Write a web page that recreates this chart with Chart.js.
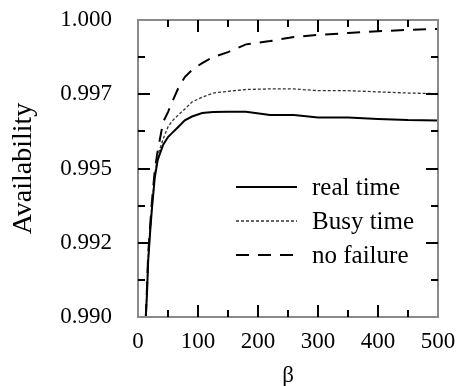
<!DOCTYPE html>
<html>
<head>
<meta charset="utf-8">
<script src="https://cdn.jsdelivr.net/npm/chart.js@4"></script>
<style>
  html, body { margin: 0; padding: 0; background: #fff; }
  #wrap { width: 461px; height: 386px; }
</style>
</head>
<body>
<div id="wrap"><canvas id="availChart" width="461" height="386"></canvas></div>
<script>
// beta values (x) and availability of the three series
const beta      = [13, 15, 17, 20, 23, 28, 33, 42, 50, 57, 67, 78, 90, 107, 125, 150, 180, 220, 260, 300, 350, 400, 450, 500];
const realTime  = [0.9900, 0.9908, 0.9919, 0.9928, 0.9936, 0.9947, 0.9953, 0.9958, 0.99606, 0.9962, 0.9964, 0.99662, 0.99675, 0.99687, 0.9969, 0.99691, 0.99691, 0.9968, 0.9968, 0.99672, 0.99672, 0.99667, 0.99663, 0.99662];
const busyTime  = [0.9900, 0.9909, 0.9920, 0.9929, 0.9937, 0.9948, 0.99545, 0.9960, 0.9964, 0.9966, 0.9968, 0.9970, 0.99724, 0.9974, 0.99754, 0.9976, 0.99766, 0.99768, 0.99768, 0.99762, 0.99762, 0.99758, 0.99754, 0.99752];
const noFailure = [0.9900, 0.9910, 0.99215, 0.9930, 0.99384, 0.99495, 0.99562, 0.99657, 0.9969, 0.99724, 0.9977, 0.99808, 0.99832, 0.99855, 0.99875, 0.99892, 0.99918, 0.99929, 0.99943, 0.9995, 0.99956, 0.99962, 0.99967, 0.9997];

const seriesNames = ['real time', 'Busy time', 'no failure'];

const xTickValues = [0, 100, 200, 300, 400, 500];
const yTickValues = [0.990, 0.9925, 0.995, 0.9975, 1.000];
const yTickLabels = ['0.990', '0.992', '0.995', '0.997', '1.000'];

const serif = '"Liberation Serif", "DejaVu Serif", serif';

function pts(ys) {
  return beta.map((b, i) => ({ x: b, y: ys[i] }));
}

// frame + inward ticks on all four sides, major and minor
const frameTicks = {
  id: 'frameTicks',
  afterDraw(chart) {
    const { ctx, chartArea: a, scales } = chart;
    const xs = scales.x, ys = scales.y;
    ctx.save();
    ctx.strokeStyle = '#8a8a8a';
    ctx.lineWidth = 2;
    ctx.strokeRect(a.left, a.top, a.right - a.left, a.bottom - a.top);

    ctx.strokeStyle = '#000';
    ctx.lineWidth = 2;
    const tick = (x1, y1, x2, y2) => {
      ctx.beginPath(); ctx.moveTo(x1, y1); ctx.lineTo(x2, y2); ctx.stroke();
    };
    xTickValues.forEach((v, i) => {
      const px = Math.round(xs.getPixelForValue(v));
      if (i > 0 && i < xTickValues.length - 1) {
        tick(px, a.bottom, px, a.bottom - 12);
        tick(px, a.top, px, a.top + 12);
      }
      if (i < xTickValues.length - 1) {
        const m = Math.round(xs.getPixelForValue((v + xTickValues[i + 1]) / 2));
        tick(m, a.bottom, m, a.bottom - 7);
        tick(m, a.top, m, a.top + 7);
      }
    });
    yTickValues.forEach((v, i) => {
      const py = Math.round(ys.getPixelForValue(v));
      if (i > 0 && i < yTickValues.length - 1) {
        tick(a.left, py, a.left + 12, py);
        tick(a.right, py, a.right - 12, py);
      }
      if (i < yTickValues.length - 1) {
        const m = Math.round(ys.getPixelForValue((v + yTickValues[i + 1]) / 2));
        tick(a.left, m, a.left + 7, m);
        tick(a.right, m, a.right - 7, m);
      }
    });
    ctx.restore();
  }
};

// legend drawn inside the plot area
const innerLegend = {
  id: 'innerLegend',
  afterDatasetsDraw(chart) {
    const { ctx, chartArea: a } = chart;
    ctx.save();
    ctx.font = '25px ' + serif;
    ctx.textBaseline = 'middle';
    ctx.fillStyle = '#000';
    chart.data.datasets.forEach((ds, i) => {
      const y = a.top + 167 + i * 34;
      ctx.strokeStyle = ds.borderColor;
      ctx.lineWidth = ds.borderWidth;
      ctx.setLineDash(ds.borderDash || []);
      ctx.beginPath();
      ctx.moveTo(a.left + 98, y);
      ctx.lineTo(a.left + 159, y);
      ctx.stroke();
      ctx.setLineDash([]);
      ctx.fillText(ds.label, a.left + 174, y + 1);
    });
    ctx.restore();
  }
};

const ctx = document.getElementById('availChart').getContext('2d');
new Chart(ctx, {
  type: 'line',
  data: {
    datasets: [
      { label: seriesNames[0], data: pts(realTime),  borderColor: '#000', borderWidth: 2,   borderDash: [] },
      { label: seriesNames[1], data: pts(busyTime),  borderColor: '#333', borderWidth: 1.3, borderDash: [3, 2] },
      { label: seriesNames[2], data: pts(noFailure), borderColor: '#000', borderWidth: 2,   borderDash: [13, 9] }
    ]
  },
  options: {
    responsive: false,
    devicePixelRatio: 1,
    animation: false,
    events: [],
    elements: { point: { radius: 0 }, line: { tension: 0, fill: false } },
    layout: { padding: { left: 0, right: 23, top: 20, bottom: 0 } },
    plugins: { legend: { display: false }, tooltip: { enabled: false } },
    scales: {
      x: {
        type: 'linear',
        min: 0,
        max: 500,
        afterFit(s) { s.height = 69; s.paddingLeft = 0; s.paddingRight = 0; },
        afterBuildTicks(s) { s.ticks = xTickValues.map(v => ({ value: v })); },
        grid: { display: false },
        border: { display: false },
        ticks: { color: '#000', padding: 3, maxRotation: 0, font: { family: serif, size: 23 }, callback: v => String(v) },
        title: { display: true, text: 'β', color: '#000', padding: 0, font: { family: serif, size: 23, lineHeight: 0.9 } }
      },
      y: {
        type: 'linear',
        min: 0.990,
        max: 1.000,
        afterFit(s) { s.width = 138; s.paddingTop = 0; s.paddingBottom = 0; },
        afterBuildTicks(s) { s.ticks = yTickValues.map(v => ({ value: v })); },
        grid: { display: false },
        border: { display: false },
        ticks: { color: '#000', padding: 18, font: { family: serif, size: 23 }, callback: (v, i) => yTickLabels[i] },
        title: { display: true, text: 'Availability', color: '#000', padding: { top: 7, bottom: 0 }, font: { family: serif, size: 28 } }
      }
    }
  },
  plugins: [frameTicks, innerLegend]
});
</script>
</body>
</html>
